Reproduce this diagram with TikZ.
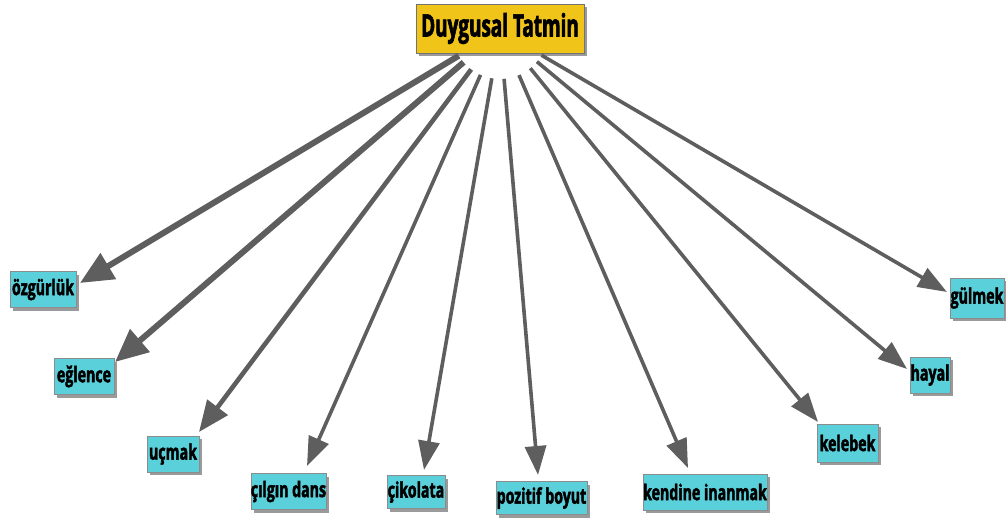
\documentclass[tikz,border=0pt]{standalone}
\usepackage{fontspec}
\newfontfamily\rootfont[FakeStretch=0.61,FakeBold=2]{Open Sans Bold}
\newfontfamily\leaffont[FakeStretch=0.66,FakeBold=2]{Open Sans Bold}
\usetikzlibrary{arrows.meta,shadows,calc}
\definecolor{leafcyan}{HTML}{5AD0DB}
\definecolor{rootgold}{HTML}{F0C419}
\definecolor{arrowgray}{HTML}{5E5E5E}
\definecolor{shadowgray}{HTML}{9A9A9A}
\tikzset{
  rootbox/.style={draw=black!55, line width=0.6pt, fill=rootgold, inner sep=0pt,
    minimum width=168pt, minimum height=49pt,
    font=\rootfont\fontsize{31pt}{33pt}\selectfont, text=black,
    drop shadow={shadow xshift=3pt, shadow yshift=-3pt, fill=shadowgray, opacity=1}},
  leafbox/.style={draw=black!45, line width=0.5pt, fill=leafcyan, inner sep=0pt,
    minimum height=36pt,
    font=\leaffont\fontsize{21.5pt}{23pt}\selectfont, text=black,
    drop shadow={shadow xshift=3pt, shadow yshift=-3pt, fill=shadowgray, opacity=1}},
  thinarr/.style={draw=arrowgray, line width=3.6pt,
    -{Triangle[length=29pt,width=21pt]}},
  midarr/.style={draw=arrowgray, line width=4.6pt,
    -{Triangle[length=31pt,width=25pt]}},
  thickarr/.style={draw=arrowgray, line width=6pt,
    -{Triangle[length=33pt,width=29pt]}},
}
\begin{document}
\begin{tikzpicture}[x=1pt,y=-1pt]
\useasboundingbox (0,0) rectangle (1006,522);
\node[rootbox] (root) at (500,28.5) {Duygusal Tatmin};
\coordinate (rc) at (500,31);
\node[leafbox, minimum width=66pt] (oz) at (43,289.5) {özgürlük};
\node[leafbox, minimum width=60pt] (eg) at (84,376.5) {eğlence};
\node[leafbox, minimum width=52pt] (uc) at (173,454) {uçmak};
\node[leafbox, minimum width=75pt] (cd) at (288.5,491.5) {çılgın dans};
\node[leafbox, minimum width=58pt, minimum height=33pt] (ck) at (416,492) {çikolata};
\node[leafbox, minimum width=91pt, minimum height=33pt] (pb) at (541.5,498) {pozitif boyut};
\node[leafbox, minimum width=124pt] (ki) at (705,492) {kendine inanmak};
\node[leafbox, minimum width=61pt, minimum height=38pt] (kb) at (847.5,443) {kelebek};
\node[leafbox, minimum width=40pt] (hy) at (930,375) {hayal};
\node[leafbox, minimum width=54pt, minimum height=40pt] (gu) at (977,298) {gülmek};
% arrow tips
\coordinate (ozT) at (80,283);
\coordinate (egT) at (115,362);
\coordinate (ucT) at (199,432);
\coordinate (cdT) at (307,466);
\coordinate (ckT) at (424,470);
\coordinate (pbT) at (538,475);
\coordinate (kiT) at (688,468);
\coordinate (kbT) at (818,422);
\coordinate (hyT) at (907,369);
\coordinate (guT) at (947,292);
\draw[thickarr] ($(rc)!48pt!(ozT)$) -- (ozT);
\draw[thickarr] ($(rc)!48pt!(egT)$) -- (egT);
\draw[midarr] ($(rc)!48pt!(ucT)$) -- (ucT);
\draw[thinarr] ($(rc)!48pt!(cdT)$) -- (cdT);
\draw[thinarr] ($(rc)!48pt!(ckT)$) -- (ckT);
\draw[thinarr] ($(rc)!48pt!(pbT)$) -- (pbT);
\draw[thinarr] ($(rc)!48pt!(kiT)$) -- (kiT);
\draw[thinarr] ($(rc)!48pt!(kbT)$) -- (kbT);
\draw[thinarr] ($(rc)!48pt!(hyT)$) -- (hyT);
\draw[thinarr] ($(rc)!48pt!(guT)$) -- (guT);
\end{tikzpicture}
\end{document}
